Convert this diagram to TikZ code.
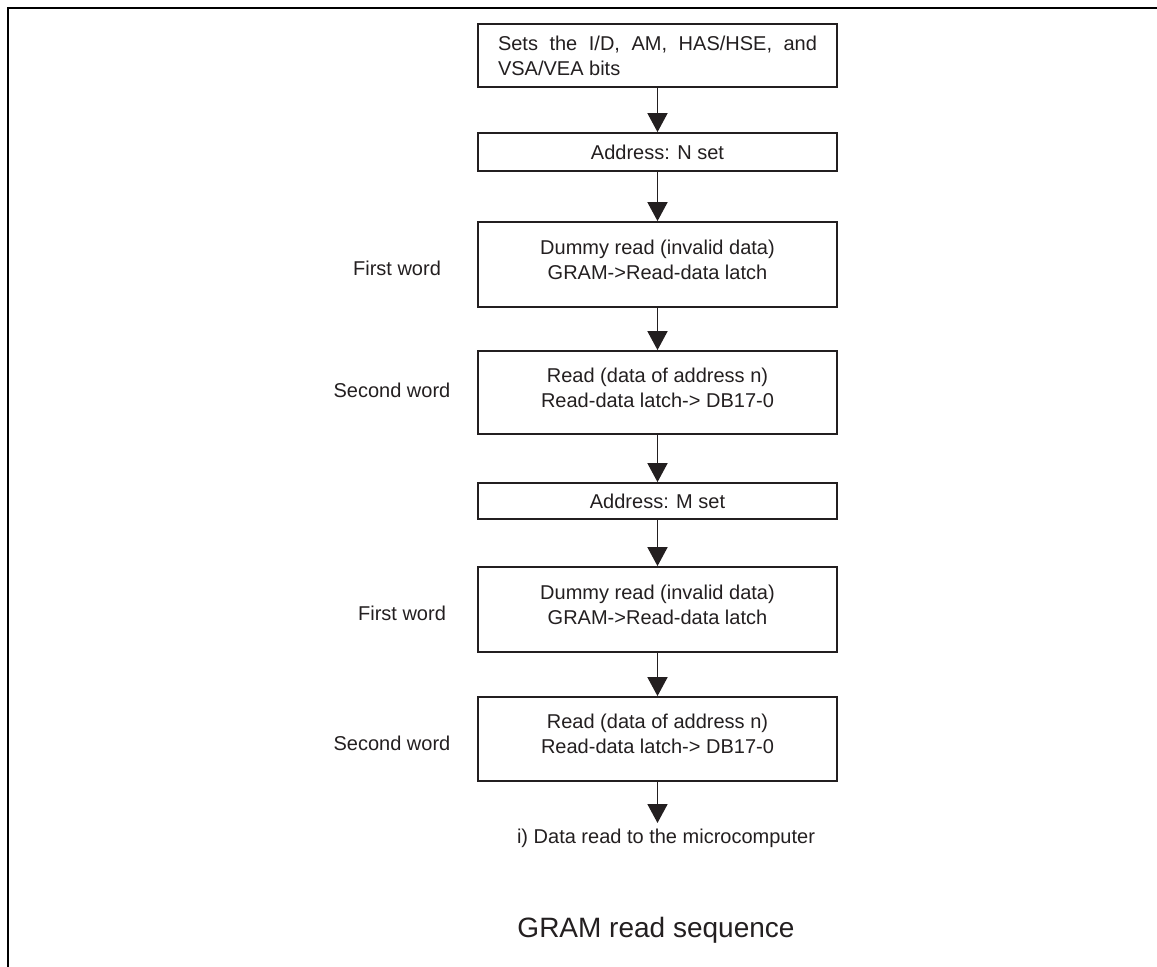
\documentclass[tikz,border=0pt]{standalone}
\usepackage{fontspec}
\setmainfont{Liberation Sans}
\usetikzlibrary{arrows.meta}
\definecolor{ink}{HTML}{231F20}

\begin{document}
\begin{tikzpicture}[x=0.5pt,y=-0.5pt,
  every node/.style={inner sep=0pt,text=ink,font=\fontsize{10}{12.5}\selectfont},
  stepbox/.style={draw=ink,line width=0.9pt,minimum width=179.5pt,align=center},
  flow/.style={draw=ink,line width=0.9pt,-{Triangle[length=9.5pt,width=10pt]}}]
  \useasboundingbox (0,0) rectangle (1157,967);
  \draw [black,line width=1.1pt] (8,967) -- (8,8) -- (1157,8);
  \node [stepbox,minimum height=31.5pt,align=justify,text width=159.5pt] (setbits) at (657.5,55.5)
    {Sets the I/D, AM, HAS/HSE, and VSA/VEA bits};
  \node [stepbox,minimum height=19pt] (addrN) at (657.5,152) {Address: N set};
  \node [stepbox,minimum height=42.5pt,text depth=5pt] (dummyN) at (657.5,264.5)
    {Dummy read (invalid data)\\GRAM->Read-data latch};
  \node [stepbox,minimum height=41.5pt,text depth=5pt] (readN) at (657.5,392.5)
    {Read (data of address n)\\Read-data latch-> DB17-0};
  \node [stepbox,minimum height=18pt] (addrM) at (657.5,501) {Address: M set};
  \node [stepbox,minimum height=42.5pt,text depth=5pt] (dummyM) at (657.5,609.5)
    {Dummy read (invalid data)\\GRAM->Read-data latch};
  \node [stepbox,minimum height=42pt,text depth=5pt] (readM) at (657.5,739)
    {Read (data of address n)\\Read-data latch-> DB17-0};
  \coordinate (done) at (657.5,823);
  \node (result) at (666,838) {i) Data read to the microcomputer};
  \node (firstN) at (397,268) {First word};
  \node (secondN) at (392,390) {Second word};
  \node (firstM) at (402,613) {First word};
  \node (secondM) at (392,743) {Second word};
  \node [font=\fontsize{14}{16}\selectfont] (title) at (656,930) {GRAM read sequence};
  \draw [flow] (setbits) -- (addrN);
  \draw [flow] (addrN) -- (dummyN);
  \draw [flow] (dummyN) -- (readN);
  \draw [flow] (readN) -- (addrM);
  \draw [flow] (addrM) -- (dummyM);
  \draw [flow] (dummyM) -- (readM);
  \draw [flow] (readM) -- (done);
\end{tikzpicture}
\end{document}
